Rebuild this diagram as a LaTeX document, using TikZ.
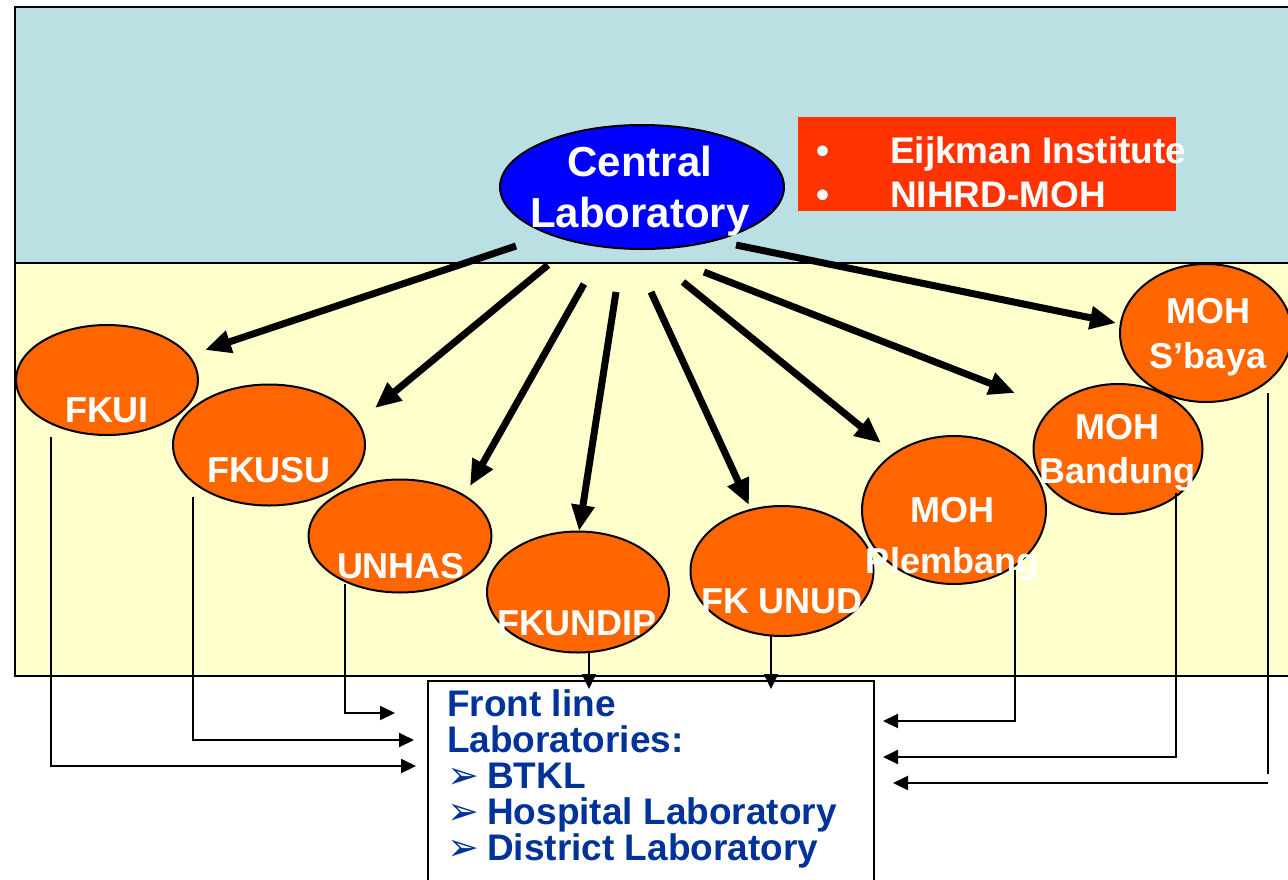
\documentclass[tikz,border=0pt]{standalone}
\usepackage{fontspec}
\setmainfont{Liberation Sans}
\newfontfamily\dejavu{DejaVu Sans}
\usetikzlibrary{arrows.meta,shapes.geometric}

\definecolor{skyband}{HTML}{BBE0E3}
\definecolor{paleband}{HTML}{FFFFCC}
\definecolor{centblue}{HTML}{0000FF}
\definecolor{siteorange}{HTML}{FF6600}
\definecolor{instred}{HTML}{FF3300}
\definecolor{frontblue}{HTML}{003399}

\tikzset{
  band/.style={draw=black,line width=2pt},
  site/.style={ellipse,draw=black,line width=2pt,fill=siteorange,inner sep=0pt},
  sitetxt/.style={text=white,inner sep=0pt,align=center,anchor=base,
    font=\fontsize{36}{44}\selectfont\bfseries},
  spoke/.style={line width=7pt,-{Triangle[length=26pt,width=22pt]}},
  link/.style={line width=2pt,-{Triangle[length=15pt,width=14pt]}}
}
\newcommand{\frontarr}{\makebox[40pt][l]{\dejavu\fontsize{38}{36}\selectfont ➢}}

\begin{document}
\begin{tikzpicture}[x=1pt,y=-1pt]
  \useasboundingbox (0,0) rectangle (1288,879);
  \clip (0,0) rectangle (1288,879);

  \draw[band,fill=skyband] (15,7) rectangle (1296,263);
  \draw[band,fill=paleband] (15,263) rectangle (1296,676);

  % institutes
  \node[fill=instred,minimum width=378,minimum height=94,inner sep=0pt] (inst) at (987,164) {};
  \node[text=white,anchor=base west,inner sep=0pt,align=left,
    font=\fontsize{37}{44}\selectfont\bfseries] (insttxt) at (816,207)
    {\makebox[74pt][l]{•}Eijkman Institute\\\makebox[74pt][l]{•}NIHRD-MOH};

  % central lab
  \node[ellipse,draw=black,line width=2pt,fill=centblue,minimum width=284,minimum height=124,inner sep=0pt] (cen) at (642,187) {};
  \node[sitetxt,font=\fontsize{42}{51}\selectfont\bfseries] (centxt) at (640,227) {Central\\Laboratory};

  % sites
  \node[site,minimum width=182,minimum height=110] (fkui) at (107,380) {};
  \node[sitetxt] (fkuitxt) at (107,422) {FKUI};
  \node[site,minimum width=192,minimum height=121] (fkusu) at (269,445) {};
  \node[sitetxt] (fkusutxt) at (269,482) {FKUSU};
  \node[site,minimum width=183,minimum height=113] (unhas) at (400,536) {};
  \node[sitetxt] (unhastxt) at (401,578) {UNHAS};
  \node[site,minimum width=182,minimum height=121] (fkundip) at (578,592) {};
  \node[sitetxt] (fkundiptxt) at (577,635) {FKUNDIP};
  \node[site,minimum width=183,minimum height=130] (fkunud) at (782,571) {};
  \node[sitetxt] (fkunudtxt) at (782,613) {FK UNUD};
  \node[site,minimum width=184,minimum height=148] (plem) at (954,510) {};
  \node[sitetxt,font=\fontsize{36}{51}\selectfont\bfseries] (plemtxt) at (952,573) {MOH\\Plembang};
  \node[site,minimum width=169,minimum height=130] (band) at (1118,449) {};
  \node[sitetxt] (bandtxt) at (1117,483) {MOH\\Bandung};
  \node[site,minimum width=172,minimum height=138] (sbaya) at (1206,333) {};
  \node[sitetxt,font=\fontsize{36}{45}\selectfont\bfseries] (sbayatxt) at (1208,368) {MOH\\S’baya};

  % front line box
  \node[draw=black,line width=2pt,fill=white,minimum width=446,minimum height=260,
    anchor=north west,inner sep=0pt] (front) at (427,680) {};
  \node[text=frontblue,anchor=base west,inner sep=0pt,align=left,
    font=\fontsize{37}{36}\selectfont\bfseries] (fronttxt) at (447,860)
    {Front line\\Laboratories:\\\frontarr BTKL\\\frontarr Hospital Laboratory\\\frontarr District Laboratory};

  % spokes from central lab
  \coordinate (s1) at (516,246);  \coordinate (e1) at (205,350);
  \coordinate (s2) at (548,265);  \coordinate (e2) at (375,408);
  \coordinate (s3) at (584,284);  \coordinate (e3) at (470,486);
  \coordinate (s4) at (616,292);  \coordinate (e4) at (579,531);
  \coordinate (s5) at (651,292);  \coordinate (e5) at (749,505);
  \coordinate (s6) at (683,282);  \coordinate (e6) at (881,443);
  \coordinate (s7) at (704,272);  \coordinate (e7) at (1015,393);
  \coordinate (s8) at (736,245);  \coordinate (e8) at (1116,323);

  \draw[spoke] (s1) -- (e1);
  \draw[spoke] (s2) -- (e2);
  \draw[spoke] (s3) -- (e3);
  \draw[spoke] (s4) -- (e4);
  \draw[spoke] (s5) -- (e5);
  \draw[spoke] (s6) -- (e6);
  \draw[spoke] (s7) -- (e7);
  \draw[spoke] (s8) -- (e8);

  % links to front line
  \coordinate (fkuiout) at (51,437);     \coordinate (fkuiin) at (416,766);
  \coordinate (fkusuout) at (193,497);   \coordinate (fkusuin) at (414,740);
  \coordinate (unhasout) at (345,584);   \coordinate (unhasin) at (395,713);
  \coordinate (fkundipout) at (589,653); \coordinate (fkundipin) at (589,689);
  \coordinate (fkunudout) at (771,636);  \coordinate (fkunudin) at (771,689);
  \coordinate (plemout) at (1015,570);   \coordinate (plemin) at (883,721);
  \coordinate (bandout) at (1176,493);   \coordinate (bandin) at (883,757);
  \coordinate (sbayaout) at (1268,393);  \coordinate (sbayaend) at (1268,774);
  \coordinate (sbayafrom) at (1268,783); \coordinate (sbayain) at (893,783);

  \draw[link] (fkuiout) |- (fkuiin);
  \draw[link] (fkusuout) |- (fkusuin);
  \draw[link] (unhasout) |- (unhasin);
  \draw[link] (fkundipout) -- (fkundipin);
  \draw[link] (fkunudout) -- (fkunudin);
  \draw[link] (plemout) |- (plemin);
  \draw[link] (bandout) |- (bandin);
  \draw[line width=2pt] (sbayaout) -- (sbayaend);
  \draw[link] (sbayafrom) -- (sbayain);

\end{tikzpicture}
\end{document}
